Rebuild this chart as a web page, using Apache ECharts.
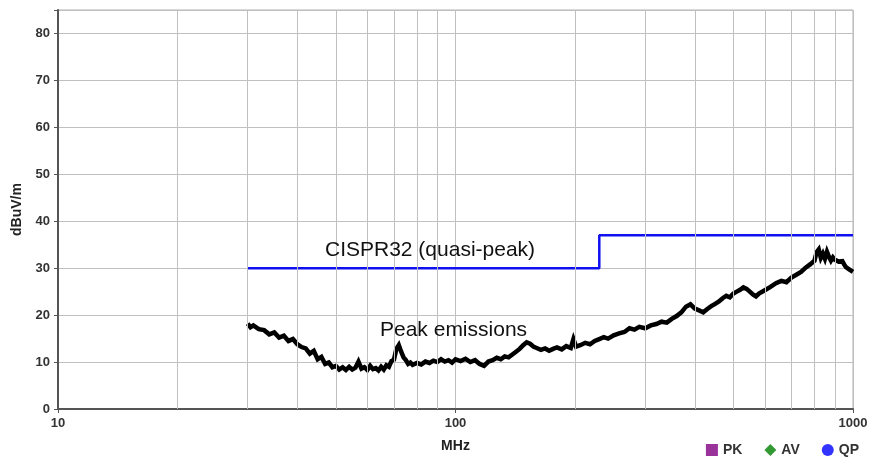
<!DOCTYPE html>
<html>
<head>
    <meta charset="utf-8">
    <title>EMI</title>
    <script src="https://cdn.jsdelivr.net/npm/echarts@6/dist/echarts.min.js"></script>
    <style type="text/css">
        body {
            margin: 0;
            background: #fff;
        }

        #main {
            width: 870px;
            height: 464px;
        }
    </style>
</head>
<body>
<div id="main"></div>
<script>
    // 频率 (MHz) / 峰值 (dBuV/m)
    var peakFreq = [30, 30.5, 31, 32, 33, 34, 35, 36, 37, 38, 39, 40, 41, 42, 43, 44, 45, 46, 47, 48, 49, 50,
        51, 52, 53, 54, 55, 56, 57, 58, 59, 60, 61, 62, 63, 64, 65, 66, 67, 68, 69, 70, 71, 72, 73, 74, 75, 76,
        77, 78, 80, 82, 84, 86, 88, 90, 92, 94, 96, 98, 100, 103, 106, 109, 112, 115, 118, 121, 124, 127, 130,
        133, 136, 139, 142, 145, 148, 151, 154, 157, 160, 164, 168, 172, 176, 180, 185, 190, 195, 198, 201, 206,
        212, 218, 224, 230, 236, 242, 250, 258, 266, 274, 282, 290, 300, 310, 320, 330, 340, 350, 360, 370, 380,
        390, 400, 410, 420, 430, 440, 450, 460, 470, 480, 490, 500, 510, 520, 530, 540, 550, 560, 570, 580, 600,
        620, 640, 660, 680, 700, 720, 740, 760, 780, 800, 810, 820, 830, 840, 850, 860, 870, 880, 890, 900, 910,
        920, 930, 940, 950, 960, 970, 980, 990, 1000];
    var peakValue = [18.2, 17.4, 17.8, 17.0, 16.8, 15.9, 16.3, 15.2, 15.6, 14.5, 14.9, 13.8, 13.2, 12.9, 11.8,
        12.4, 10.6, 11.1, 9.6, 9.9, 8.9, 9.2, 8.4, 8.9, 8.3, 9.0, 8.4, 8.8, 10.1, 8.6, 8.9, 8.3, 9.2, 8.5, 8.7,
        8.2, 9.0, 8.4, 9.3, 9.0, 10.2, 10.5, 12.8, 13.6, 12.2, 11.0, 10.4, 9.6, 9.9, 9.4, 9.8, 9.5, 10.1, 9.8,
        10.3, 10.0, 10.6, 10.1, 10.4, 9.9, 10.6, 10.2, 10.7, 10.0, 10.4, 9.6, 9.2, 10.1, 10.4, 10.9, 10.6, 11.2,
        11.0, 11.6, 12.2, 12.8, 13.6, 14.2, 13.9, 13.3, 13.0, 12.6, 12.9, 12.4, 12.8, 13.1, 12.7, 13.4, 13.0,
        14.9, 13.3, 13.6, 14.1, 13.8, 14.5, 14.9, 15.3, 15.0, 15.7, 16.1, 16.4, 17.2, 16.9, 17.5, 17.2, 17.8,
        18.1, 18.6, 18.4, 19.2, 19.8, 20.6, 21.8, 22.3, 21.4, 21.0, 20.6, 21.3, 21.9, 22.4, 22.9, 23.6, 24.1,
        23.8, 24.6, 25.0, 25.4, 25.9, 25.6, 25.0, 24.4, 24.0, 24.6, 25.3, 26.0, 26.8, 27.3, 27.0, 28.0, 28.6,
        29.2, 30.1, 30.8, 31.6, 33.4, 34.0, 32.2, 33.1, 32.0, 33.5, 32.4, 31.6, 32.3, 31.8, 32.1, 31.4, 31.0,
        31.5, 30.8, 30.2, 30.6, 29.7, 29.4, 29.2];

    // CISPR32 限值
    var limitFreq = [30, 230, 230, 1000];
    var limitValue = [30, 30, 37, 37];

    // 次网格线
    var minorGrid = [20, 30, 40, 50, 60, 70, 80, 90, 200, 300, 400, 500, 600, 700, 800, 900];
    var legendNames = ['PK', 'AV', 'QP'];
    var legendColors = ['#800080', '#008000', '#0000ff'];
    var legendSymbols = ['rect', 'diamond', 'circle'];

    var peakData = peakFreq.map(function (f, i) {
        return [f, peakValue[i]];
    });
    var limitData = limitFreq.map(function (f, i) {
        return [f, limitValue[i]];
    });

    var series = [{
        type: 'line',
        data: [],
        z: 1,
        silent: true,
        markLine: {
            silent: true,
            symbol: 'none',
            label: {show: false},
            animation: false,
            lineStyle: {color: '#c0c0c0', width: 1, type: 'solid'},
            data: minorGrid.map(function (v) {
                return {xAxis: v};
            })
        }
    }, {
        name: 'limit',
        type: 'line',
        data: limitData,
        showSymbol: false,
        z: 3,
        lineStyle: {color: '#1010f0', width: 2.5},
        itemStyle: {color: '#1010f0'}
    }, {
        name: 'peak',
        type: 'line',
        data: peakData,
        showSymbol: false,
        z: 4,
        lineStyle: {color: '#000', width: 4.5, join: 'miter'},
        itemStyle: {color: '#000'}
    }];
    legendNames.forEach(function (n, i) {
        series.push({
            name: n,
            type: 'scatter',
            data: [],
            symbol: legendSymbols[i],
            itemStyle: {color: legendColors[i]}
        });
    });

    var myChart = echarts.init(document.getElementById('main'));
    var option = {
        animation: false,
        grid: {
            left: 58,
            right: 17,
            top: 10,
            bottom: 55,
            outerBoundsMode: 'none',
            show: true,
            borderColor: '#b0b0b0',
            borderWidth: 1
        },
        legend: {
            data: legendNames,
            right: 6,
            bottom: 2,
            itemGap: 22,
            itemWidth: 12,
            itemHeight: 12,
            textStyle: {fontSize: 14, fontWeight: 'bold', color: '#333', fontFamily: 'Liberation Sans'}
        },
        xAxis: {
            type: 'log',
            logBase: 10,
            min: 10,
            max: 1000,
            name: 'MHz',
            nameLocation: 'middle',
            nameGap: 30,
            nameTextStyle: {fontSize: 14, fontWeight: 'bold', color: '#222', fontFamily: 'Liberation Sans'},
            axisLine: {lineStyle: {color: '#555', width: 2}},
            axisTick: {show: true, length: 4, lineStyle: {color: '#555'}},
            axisLabel: {
                fontSize: 13, fontWeight: 'bold', color: '#333', margin: 8, fontFamily: 'Liberation Sans',
                formatter: function (v) {
                    return String(Math.round(v));
                }
            },
            splitLine: {show: true, lineStyle: {color: '#c0c0c0'}}
        },
        yAxis: {
            type: 'value',
            min: 0,
            max: 85,
            interval: 10,
            name: 'dBuV/m',
            nameLocation: 'middle',
            nameGap: 33,
            nameTextStyle: {fontSize: 14, fontWeight: 'bold', color: '#222', fontFamily: 'Liberation Sans'},
            axisLine: {show: true, lineStyle: {color: '#555', width: 2}},
            axisTick: {show: true, length: 4, lineStyle: {color: '#555'}},
            axisLabel: {
                fontSize: 13, fontWeight: 'bold', color: '#333', margin: 8, fontFamily: 'Liberation Sans',
                formatter: function (v) {
                    return v % 10 === 0 ? v : '';
                }
            },
            splitLine: {show: true, lineStyle: {color: '#c0c0c0'}}
        },
        graphic: [{
            type: 'text',
            left: 325,
            top: 240,
            z: 10,
            style: {text: 'CISPR32 (quasi-peak)', fontSize: 21, fill: '#111', fontFamily: 'Liberation Sans'}
        }, {
            type: 'text',
            left: 380,
            top: 320,
            z: 10,
            style: {text: 'Peak emissions', fontSize: 21, fill: '#111', fontFamily: 'Liberation Sans'}
        }],
        series: series
    };
    myChart.setOption(option);
</script>
</body>
</html>
